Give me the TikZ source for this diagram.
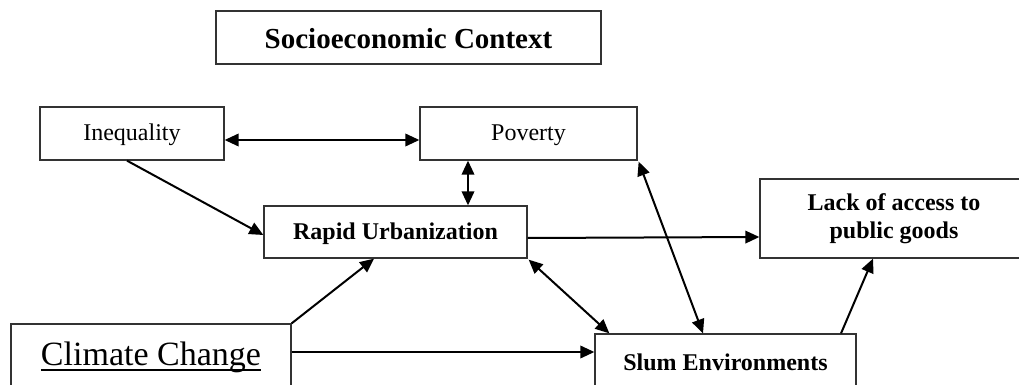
\documentclass[tikz,border=0pt]{standalone}
\usepackage{fontspec}
\setmainfont{Liberation Serif}
\usetikzlibrary{arrows.meta,calc}
\newcommand\wordul[1]{\sbox0{#1}\rlap{\rule[-6pt]{\wd0}{1.6pt}}\usebox0}
\tikzset{
  boxnode/.style={draw=black!80, line width=1.3pt, rectangle, inner sep=0pt,
    text height=18pt, text depth=4pt, font=\fontsize{24}{28}\selectfont},
  conn/.style={line width=2pt, -{Triangle[length=14pt,width=12.5pt]}},
  bconn/.style={line width=2pt, {Triangle[length=14pt,width=12.5pt]}-{Triangle[length=14pt,width=12.5pt]}}
}
\begin{document}
\begin{tikzpicture}[x=1pt,y=-1pt]
\useasboundingbox (0,0) rectangle (1019,385);
\node[boxnode, minimum width=385pt, minimum height=53pt, text height=21.6pt, text depth=0pt,
  font=\fontsize{29}{33}\selectfont\bfseries] (soc) at (408.5,37.5) {Socioeconomic Context};
\node[boxnode, minimum width=184pt, minimum height=53pt] (ineq) at (132,133.5) {Inequality};
\node[boxnode, minimum width=217pt, minimum height=53pt] (pov) at (528.5,133.5) {Poverty};
\node[boxnode, minimum width=263pt, minimum height=52pt, font=\fontsize{24}{28}\selectfont\bfseries] (rapid) at (395.5,232) {Rapid Urbanization};
\node[boxnode, minimum width=268pt, minimum height=79pt, text height=, text depth=, align=center,
  font=\fontsize{24}{28}\selectfont\bfseries] (lack) at (894,218.5) {Lack of access to\\public goods};
\node[boxnode, minimum width=280pt, minimum height=66pt, text height=23pt, text depth=7pt,
  font=\fontsize{34}{38}\selectfont] (climate) at (151,357) {\wordul{Climate Change}};
\node[boxnode, minimum width=261pt, minimum height=58pt, font=\fontsize{24}{28}\selectfont\bfseries] (slum) at (725.5,363) {Slum Environments};

\draw[bconn] ($(ineq.east)+(0,6.5)$) -- ($(pov.west)+(0,6.5)$);
\draw[bconn] ($(pov.south)+(-60.5,0)$) -- ($(rapid.north)+(72.5,0)$);
\draw[conn] ($(ineq.south)+(-5,0)$) -- ($(rapid.west)+(0,3)$);
\draw[conn] ($(rapid.east)+(0,6)$) -- ($(lack.west)+(0,18.5)$);
\draw[bconn] ($(pov.south east)+(1,1)$) -- ($(slum.north)+(-22.5,0)$);
\draw[bconn] ($(rapid.south east)+(1,1)$) -- ($(slum.north west)+(15,0)$);
\draw[conn] (climate.north east) -- ($(rapid.south)+(-21.5,0)$);
\draw[conn] ($(climate.east)+(0,-5)$) -- ($(slum.west)+(0,-11)$);
\draw[conn] ($(slum.north)+(115.5,0)$) -- ($(lack.south)+(-21,0)$);
\end{tikzpicture}
\end{document}
